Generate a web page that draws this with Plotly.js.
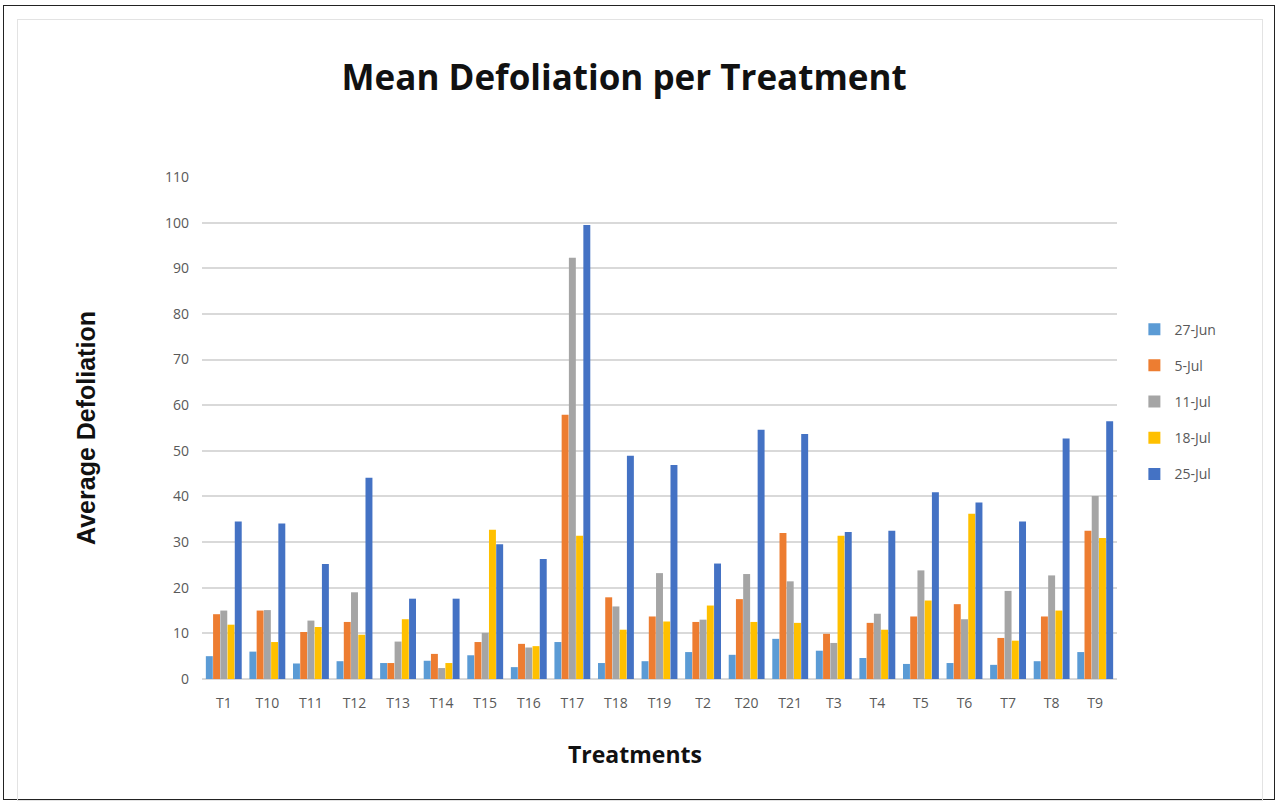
<!DOCTYPE html>
<html>
<head>
<meta charset="utf-8">
<script src="https://cdn.plot.ly/plotly-3.0.1.min.js"></script>
<style>
  html, body { margin: 0; padding: 0; background: #ffffff; }
  #frame { position: absolute; left: 3px; top: 5px; width: 1270px; height: 793px; border: 1px solid #222; }
  #inner { position: absolute; left: 17px; top: 19px; width: 1244px; height: 780px; border: 1px solid #e3e3e3; }
  #chart { position: absolute; left: 0; top: 0; width: 1279px; height: 804px; }
</style>
</head>
<body>
<div id="frame"></div>
<div id="inner"></div>
<div id="chart"></div>
<script>
const treatments = ["T1","T10","T11","T12","T13","T14","T15","T16","T17","T18","T19","T2","T20","T21","T3","T4","T5","T6","T7","T8","T9"];
const jun27 = [5.0, 6.0, 3.4, 3.9, 3.5, 4.0, 5.2, 2.6, 8.1, 3.5, 3.9, 5.9, 5.3, 8.8, 6.2, 4.6, 3.3, 3.5, 3.1, 3.9, 5.9];
const jul5  = [14.2, 15.0, 10.3, 12.5, 3.5, 5.5, 8.1, 7.7, 57.9, 17.9, 13.7, 12.5, 17.5, 32.0, 9.9, 12.3, 13.7, 16.4, 9.0, 13.7, 32.5];
const jul11 = [15.0, 15.1, 12.8, 19.0, 8.2, 2.4, 10.1, 6.9, 92.3, 15.9, 23.2, 13.0, 23.0, 21.4, 7.9, 14.3, 23.8, 13.1, 19.3, 22.7, 40.1];
const jul18 = [11.9, 8.1, 11.4, 9.7, 13.1, 3.5, 32.7, 7.2, 31.4, 10.8, 12.6, 16.1, 12.5, 12.3, 31.4, 10.8, 17.2, 36.2, 8.4, 15.0, 30.9];
const jul25 = [34.5, 34.1, 25.2, 44.1, 17.6, 17.6, 29.5, 26.3, 99.5, 48.9, 46.9, 25.3, 54.6, 53.7, 32.2, 32.5, 40.9, 38.7, 34.5, 52.7, 56.5];
const seriesNames = ["27-Jun", "5-Jul", "11-Jul", "18-Jul", "25-Jul"];
const seriesValues = [jun27, jul5, jul11, jul18, jul25];
const colors = ["#5B9BD5", "#ED7D31", "#A5A5A5", "#FFC000", "#4472C4"];
const xTitle = "Treatments";

const traces = seriesNames.map((name, i) => ({
  type: "bar",
  name: name,
  x: treatments,
  y: seriesValues[i],
  legendgroup: "g" + i,
  marker: { color: colors[i], line: { width: 0 } }
}));

const layout = {
  width: 1279,
  height: 804,
  paper_bgcolor: "rgba(0,0,0,0)",
  plot_bgcolor: "rgba(0,0,0,0)",
  margin: { l: 202, r: 162, t: 177, b: 125 },
  barmode: "group",
  bargap: 0.17,
  bargroupgap: 0.04,
  title: {
    text: "<b>Mean Defoliation per Treatment</b>",
    font: { family: "Open Sans, Liberation Sans, sans-serif", size: 35, color: "#111111" },
    x: 0.488, xref: "container", xanchor: "center",
    y: 0.903, yref: "container", yanchor: "middle"
  },
  font: { family: "Open Sans, Liberation Sans, sans-serif", color: "#595959" },
  xaxis: {
    type: "category",
    categoryorder: "array",
    categoryarray: treatments,
    tickfont: { size: 14, color: "#595959" },
    ticks: "",
    ticklabelstandoff: 14,
    showline: false,
    showgrid: false
  },
  yaxis: {
    range: [0, 110],
    dtick: 10,
    tickfont: { size: 14, color: "#595959" },
    ticks: "",
    ticklabelstandoff: 12,
    showgrid: true,
    gridcolor: "#d9d9d9",
    gridwidth: 2,
    zeroline: true,
    zerolinecolor: "#d9d9d9",
    zerolinewidth: 2,
    showline: false,
    title: {
      text: "<b>Average Defoliation</b>",
      font: { family: "Liberation Sans, Arial, sans-serif", size: 25, color: "#111111" },
      standoff: 62
    }
  },
  annotations: [{
    text: "<b>" + xTitle + "</b>",
    xref: "paper", yref: "paper",
    x: 0.473, y: -0.149,
    xanchor: "center", yanchor: "middle",
    showarrow: false,
    font: { family: "Open Sans, Liberation Sans, sans-serif", size: 23, color: "#111111" }
  }],
  legend: {
    x: 1.019, xanchor: "left",
    y: 0.728, yanchor: "top",
    font: { size: 14, color: "#595959" },
    tracegroupgap: 15,
    itemwidth: 30,
    bgcolor: "rgba(0,0,0,0)"
  },
  showlegend: true
};

Plotly.newPlot("chart", traces, layout, { displayModeBar: false, staticPlot: true });
</script>
</body>
</html>
